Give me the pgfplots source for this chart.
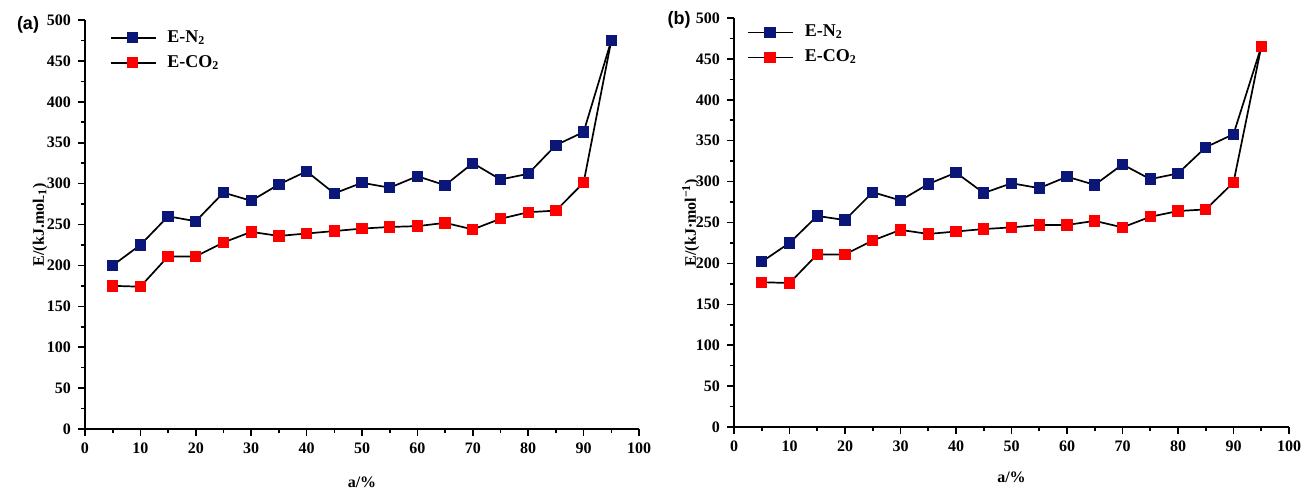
\documentclass[border=0pt]{standalone}
\usepackage{fontspec}
\setmainfont{Liberation Serif}
\newfontfamily\panelfont{Liberation Sans}
\usepackage{pgfplots}
\pgfplotsset{compat=1.18}

\definecolor{nblue}{RGB}{10,22,120}
\definecolor{cred}{RGB}{255,0,0}

\pgfplotsset{
  energy/.style={
    scale only axis, width=277pt, height=204.5pt,
    xmin=0, xmax=100, ymin=0, ymax=500,
    axis x line*=bottom, axis y line*=left,
    axis line style={line width=1pt, -},
    xtick={0,10,...,100}, ytick={0,50,...,500},
    minor x tick num=1, minor y tick num=1,
    tick align=outside, major tick length=3.5pt, minor tick length=2pt,
    every tick/.style={line width=0.8pt, black},
    /pgf/number format/assume math mode=true,
    ticklabel style={font=\fontsize{8}{9}\selectfont\bfseries},
    label style={font=\fontsize{8}{9}\selectfont\bfseries},
    legend style={draw=none, fill=none, anchor=north west,
      font=\fontsize{9}{10}\selectfont\bfseries, row sep=1pt},
    legend cell align=left,
    legend image code/.code={%
      \draw[mark repeat=2, mark phase=2, #1] plot coordinates {(0pt,0pt) (11pt,0pt) (22.5pt,0pt)};
      \path (26pt,0pt);},
    clip=false,
  },
  nser/.style={black, line width=0.85pt, mark=square*, mark size=2.4pt,
    mark options={draw=nblue, fill=nblue}},
  cser/.style={black, line width=0.85pt, mark=square*, mark size=2.4pt,
    mark options={draw=cred, fill=cred}},
}

\begin{document}
\begin{tikzpicture}
\useasboundingbox (0pt,0pt) rectangle (652pt,-245.5pt);

% panel (a)
\begin{axis}[energy, at={(42.5pt,-214.5pt)}, anchor=south west,
  xlabel={a/\%}, ylabel={E/(kJ.mol\textsubscript{-1})},
  xlabel style={at={(axis description cs:0.5,0)}, anchor=center, yshift=-26.5pt},
  ylabel style={at={(axis description cs:-0.081,0.5)}, anchor=center},
  legend style={at={(axis description cs:0.033,0.995)}},
  reverse legend]
\addplot[cser] coordinates {
  (5,175) (10,174) (15,211) (20,211) (25,228) (30,241) (35,236) (40,239)
  (45,242) (50,245) (55,247) (60,248) (65,252) (70,244) (75,257) (80,265)
  (85,267) (90,301) (95,475)};
\addlegendentry{E-CO\textsubscript{2}}
\addplot[nser] coordinates {
  (5,200) (10,225) (15,260) (20,254) (25,289) (30,279) (35,299) (40,315)
  (45,288) (50,301) (55,295) (60,309) (65,298) (70,325) (75,305) (80,312)
  (85,347) (90,363) (95,475)};
\addlegendentry{E-N\textsubscript{2}}
\end{axis}

% panel (b)
\begin{axis}[energy, width=277.5pt, at={(367pt,-213.5pt)}, anchor=south west,
  xlabel={a/\%}, ylabel={E/(kJ·mol\textsuperscript{−1})},
  xlabel style={at={(axis description cs:0.5,0)}, anchor=center, yshift=-25pt},
  ylabel style={at={(axis description cs:-0.078,0.5)}, anchor=center},
  legend style={at={(axis description cs:0.012,1.003)}}]
\addplot[nser] coordinates {
  (5,202) (10,225) (15,258) (20,253) (25,287) (30,277) (35,297) (40,311)
  (45,286) (50,298) (55,292) (60,306) (65,296) (70,321) (75,303) (80,310)
  (85,342) (90,358) (95,465)};
\addlegendentry{E-N\textsubscript{2}}
\addplot[cser] coordinates {
  (5,177) (10,176) (15,211) (20,211) (25,228) (30,241) (35,236) (40,239)
  (45,242) (50,244) (55,247) (60,247) (65,252) (70,244) (75,257) (80,264)
  (85,266) (90,299) (95,465)};
\addlegendentry{E-CO\textsubscript{2}}
\end{axis}

\node[font=\panelfont\fontsize{9}{10}\selectfont\bfseries] at (14pt,-12.5pt) {(a)};
\node[font=\panelfont\fontsize{9}{10}\selectfont\bfseries] at (339.5pt,-10pt) {(b)};
\end{tikzpicture}
\end{document}
